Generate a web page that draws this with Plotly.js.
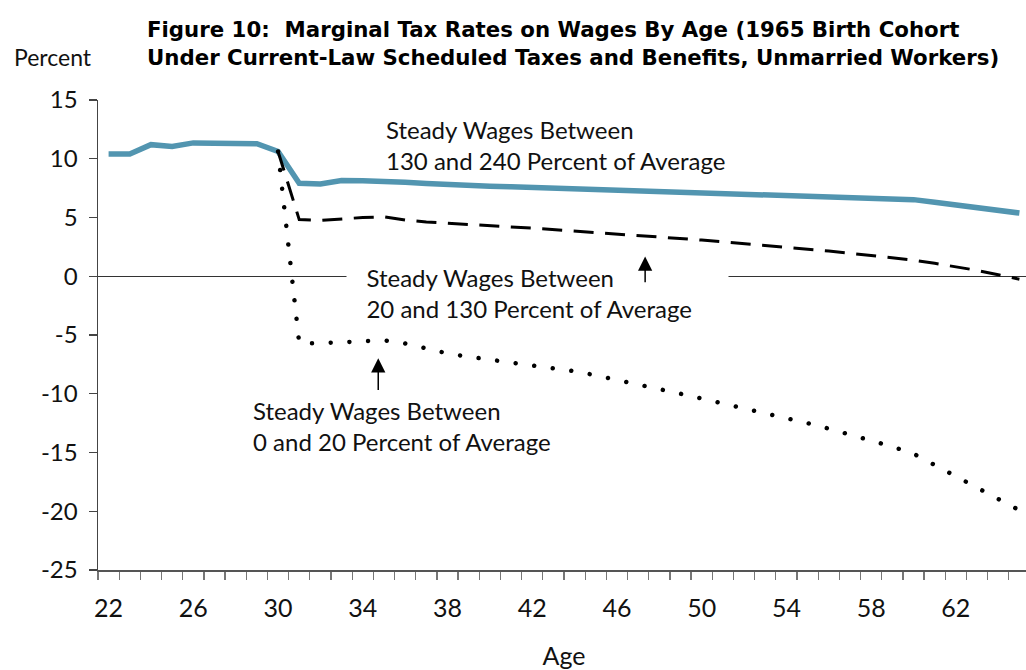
<!DOCTYPE html>
<html><head><meta charset="utf-8">
<script src="https://cdn.plot.ly/plotly-3.0.1.min.js"></script>
<style>
html,body{margin:0;padding:0;overflow:hidden;background:#fff}
#chart{width:1030px;height:670px}
.scatterlayer .trace:nth-child(3) .js-line{stroke-linecap:round}
</style></head><body><div id="chart"></div>
<script>
const ages = [22,23,24,25,26,27,28,29,30,31,32,33,34,35,36,37,38,39,40,41,42,43,44,45,46,47,48,49,50,51,52,53,54,55,56,57,58,59,60,61,62,63,64,65];
const highWage = [10.4,10.4,11.2,11.05,11.35,11.33,11.32,11.28,10.62,7.92,7.85,8.15,8.13,8.1,8.0,7.9,7.79,7.73,7.67,7.61,7.55,7.49,7.44,7.39,7.34,7.29,7.25,7.2,7.15,7.1,7.06,7.0,6.93,6.86,6.79,6.72,6.65,6.58,6.52,6.3,6.07,5.84,5.61,5.38];
const midWage = [null,null,null,null,null,null,null,null,10.62,4.82,4.75,4.9,5.0,5.05,4.78,4.62,4.5,4.4,4.3,4.2,4.1,3.98,3.85,3.72,3.57,3.47,3.35,3.22,3.08,2.94,2.79,2.63,2.47,2.31,2.14,1.96,1.77,1.57,1.37,1.1,0.82,0.5,0.13,-0.25];
const lowWage = [null,null,null,null,null,null,null,null,10.62,-5.71,-5.7,-5.63,-5.5,-5.45,-5.72,-6.1,-6.57,-6.85,-7.08,-7.32,-7.57,-7.83,-8.08,-8.43,-8.8,-9.2,-9.61,-10.0,-10.41,-10.82,-11.23,-11.66,-12.08,-12.5,-12.97,-13.45,-13.97,-14.5,-15.1,-16.06,-17.02,-17.98,-18.95,-19.92];
const xTickVals = [22,26,30,34,38,42,46,50,54,58,62];
const yTickVals = [-25,-20,-15,-10,-5,0,5,10,15];
const yTickText = ['-25','-20','-15','-10','-5','0','5','10','15'];
const seriesNames = ['Steady Wages Between 130 and 240 Percent of Average','Steady Wages Between 20 and 130 Percent of Average','Steady Wages Between 0 and 20 Percent of Average'];

const FONT = 'Lato, "Open Sans", sans-serif';
const nb = '\u00A0\u00A0\u00A0';

const traces = [
  {x: ages, y: highWage, name: seriesNames[0], type: 'scatter', mode: 'lines',
   line: {color: '#5295B0', width: 5.5}},
  {x: ages, y: midWage, name: seriesNames[1], type: 'scatter', mode: 'lines',
   line: {color: '#000', width: 3, dash: '20px,11.5px'}},
  {x: ages, y: lowWage, name: seriesNames[2], type: 'scatter', mode: 'lines',
   line: {color: '#000', width: 4.5, dash: '0.01px,18.7px'}}
];

const layout = {
  width: 1030, height: 670,
  margin: {l: 98, r: 0, t: 100, b: 100, pad: 0},
  paper_bgcolor: '#fff', plot_bgcolor: '#fff',
  showlegend: false,
  font: {family: FONT, color: '#111'},
  title: {
    text: 'Figure 10:  Marginal Tax Rates on Wages By Age (1965 Birth Cohort<br>Under Current-Law Scheduled Taxes and Benefits, Unmarried Workers)',
    font: {family: '"DejaVu Sans", sans-serif', size: 21.3, weight: 'bold', color: '#000'},
    xref: 'container', x: 147/1030, xanchor: 'left',
    yref: 'container', y: 1 - 37/670, yanchor: 'middle'
  },
  xaxis: {
    range: [21.5, 65.5], tickmode: 'array', tickvals: xTickVals, ticks: '',
    showline: true, linecolor: '#555', linewidth: 1.5,
    showgrid: false, zeroline: false,
    tickfont: {family: FONT, size: 25, color: '#111'},
    ticklabelstandoff: 15,
    minor: {tickmode: 'linear', tick0: 21.5, dtick: 1, ticks: 'outside', ticklen: 8, tickwidth: 1.3, tickcolor: '#777', showgrid: false},
    title: {text: 'Age', font: {family: FONT, size: 25, color: '#111'}, standoff: 27},
    automargin: false
  },
  yaxis: {
    range: [-25, 15], tickmode: 'array', tickvals: yTickVals, ticktext: yTickText,
    ticks: 'outside', ticklen: 8,
    tickwidth: 1.3, tickcolor: '#444', ticklabelstandoff: 6,
    showline: true, linecolor: '#444', linewidth: 1.5,
    showgrid: false, zeroline: true, zerolinecolor: '#333', zerolinewidth: 1.3,
    tickfont: {family: FONT, size: 24, color: '#111'},
    automargin: false
  },
  annotations: [
    {xref: 'paper', yref: 'paper', x: (52.5 - 98) / 932, y: (569.6 - 56.7) / 469.6,
     text: 'Percent', showarrow: false, xanchor: 'center', yanchor: 'middle',
     font: {family: FONT, size: 23, color: '#111'}},
    {x: 35.0, y: 11.15, xanchor: 'left', yanchor: 'middle', align: 'left', showarrow: false,
     text: 'Steady Wages Between<br>130 and 240 Percent of Average',
     font: {family: FONT, size: 24, color: '#111'}},
    {x: 33.21, y: -1.43, xanchor: 'left', yanchor: 'middle', align: 'left', showarrow: false,
     width: 379, bgcolor: '#fff', borderpad: 1,
     text: nb + 'Steady Wages Between<br>' + nb + '20 and 130 Percent of Average',
     font: {family: FONT, size: 24, color: '#111'}},
    {x: 28.71, y: -12.73, xanchor: 'left', yanchor: 'middle', align: 'left', showarrow: false,
     text: 'Steady Wages Between<br>0 and 20 Percent of Average',
     font: {family: FONT, size: 24, color: '#111'}},
    {x: 47.33, y: 1.69, ax: 0, ay: 27.3, text: '', showarrow: true,
     arrowhead: 2, arrowsize: 1.9, arrowwidth: 1.5, arrowcolor: '#000', standoff: 0},
    {x: 34.73, y: -6.97, ax: 0, ay: 33.4, text: '', showarrow: true,
     arrowhead: 2, arrowsize: 1.9, arrowwidth: 1.5, arrowcolor: '#000', standoff: 0}
  ]
};

Plotly.newPlot('chart', traces, layout, {staticPlot: true, displayModeBar: false});
</script>
</body></html>
